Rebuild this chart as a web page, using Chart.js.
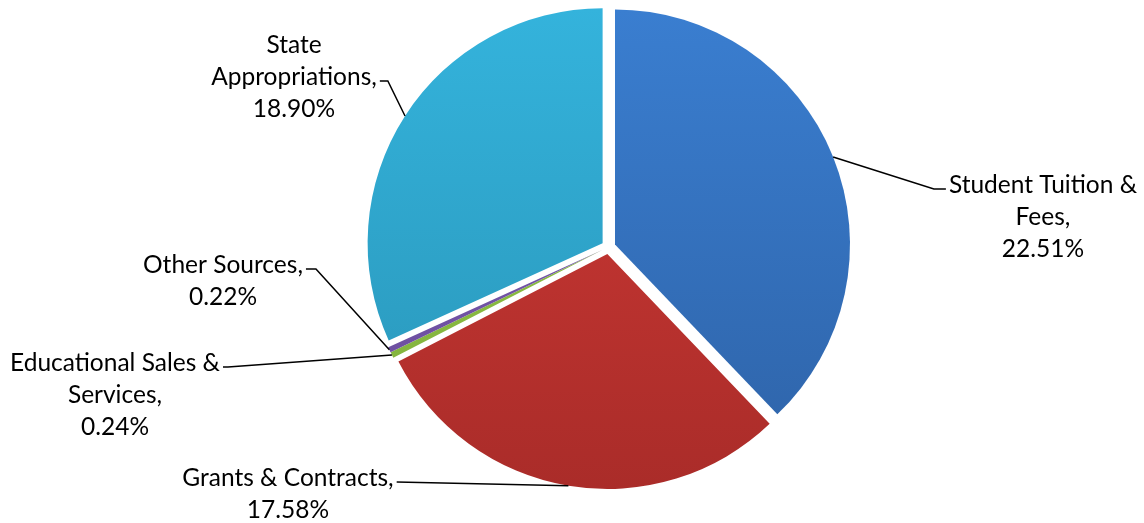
<!DOCTYPE html>
<html lang="en">
<head>
    <meta charset="UTF-8">
    <title>Revenue Sources</title>
    <script src="https://cdn.jsdelivr.net/npm/chart.js@4.4.1/dist/chart.umd.min.js"></script>
    <style>
        html, body { margin: 0; padding: 0; background: #fff; }
        .chart-container { width: 1144px; height: 523px; position: relative; }
    </style>
</head>
<body>
    <div class="chart-container">
        <canvas id="revenueChart"></canvas>
    </div>

    <script>
        // data (clockwise from 12 o'clock)
        const categories = ['Student Tuition & Fees', 'Grants & Contracts', 'Educational Sales & Services', 'Other Sources', 'State Appropriations'];
        const shares = [22.51, 17.58, 0.24, 0.22, 18.90];
        const labelLines = [
            ['Student Tuition &', 'Fees,', '22.51%'],
            ['Grants & Contracts,', '17.58%'],
            ['Educational Sales &', 'Services,', '0.24%'],
            ['Other Sources,', '0.22%'],
            ['State', 'Appropriations,', '18.90%']
        ];

        // colours: top / bottom of the soft vertical gradient
        const topColors = ['#3a7ed0', '#d03a36', '#94c84a', '#7a5bb0', '#34b3dc'];
        const bottomColors = ['#2e63a8', '#aa2c29', '#7fae3a', '#6a4c9c', '#2995b8'];

        // label placement (text centre x, first line y, line the leader attaches to)
        const labelLayout = [
            { x: 1043, y: 185, attach: 0, side: 'right', elbow: 12 },
            { x: 288, y: 478, attach: 0, side: 'left', elbow: 0 },
            { x: 115, y: 363, attach: 0, side: 'left', elbow: 5 },
            { x: 223, y: 265, attach: 0, side: 'left', elbow: 10 },
            { x: 294, y: 45, attach: 1, side: 'left', elbow: 8 }
        ];
        const explode = 7;
        const lineHeight = 32;
        const labelFont = '24.5px Lato, "DejaVu Sans", sans-serif';

        function sliceGradient(ctx, i) {
            const chart = ctx.chart;
            const area = chart.chartArea;
            if (!area) return topColors[i];
            const g = chart.ctx.createLinearGradient(0, area.top, 0, area.bottom);
            g.addColorStop(0, topColors[i]);
            g.addColorStop(1, bottomColors[i]);
            return g;
        }

        // draw each arc pushed out along its middle angle
        const explodePlugin = {
            id: 'explodeSlices',
            beforeDatasetDraw(chart, args) {
                const ctx = chart.ctx;
                args.meta.data.forEach(arc => {
                    const mid = (arc.startAngle + arc.endAngle) / 2;
                    ctx.save();
                    ctx.translate(Math.cos(mid) * explode, Math.sin(mid) * explode);
                    arc.draw(ctx);
                    ctx.restore();
                });
                return false;
            }
        };

        // labels with leader lines
        const labelPlugin = {
            id: 'pieLabels',
            afterDatasetsDraw(chart) {
                const ctx = chart.ctx;
                const meta = chart.getDatasetMeta(0);
                ctx.save();
                ctx.font = labelFont;
                ctx.fillStyle = '#000';
                ctx.textAlign = 'center';
                ctx.textBaseline = 'middle';
                meta.data.forEach((arc, i) => {
                    const lay = labelLayout[i];
                    const lines = labelLines[i];
                    lines.forEach((t, k) => ctx.fillText(t, lay.x, lay.y + k * lineHeight));

                    const mid = (arc.startAngle + arc.endAngle) / 2;
                    const r = arc.outerRadius + explode;
                    const sx = arc.x + Math.cos(mid) * r;
                    const sy = arc.y + Math.sin(mid) * r;
                    const ly = lay.y + lay.attach * lineHeight + 4;
                    const w = ctx.measureText(lines[lay.attach]).width;
                    let ex, elx;
                    if (lay.side === 'right') {
                        ex = lay.x - w / 2 - 3;
                        elx = ex - lay.elbow;
                    } else {
                        ex = lay.x + w / 2 + 3;
                        elx = ex + lay.elbow;
                    }
                    ctx.beginPath();
                    ctx.strokeStyle = '#000';
                    ctx.lineWidth = 1.5;
                    ctx.moveTo(sx, sy);
                    ctx.lineTo(elx, ly);
                    ctx.lineTo(ex, ly);
                    ctx.stroke();
                });
                ctx.restore();
            }
        };

        new Chart(document.getElementById('revenueChart').getContext('2d'), {
            type: 'pie',
            data: {
                labels: categories,
                datasets: [{
                    data: shares,
                    backgroundColor: (ctx) => sliceGradient(ctx, ctx.dataIndex),
                    borderWidth: 0
                }]
            },
            options: {
                responsive: true,
                maintainAspectRatio: false,
                animation: false,
                layout: {
                    padding: { left: 308, right: 235, top: 12, bottom: 41 }
                },
                plugins: {
                    legend: { display: false },
                    tooltip: { enabled: false }
                }
            },
            plugins: [explodePlugin, labelPlugin]
        });
    </script>
</body>
</html>
